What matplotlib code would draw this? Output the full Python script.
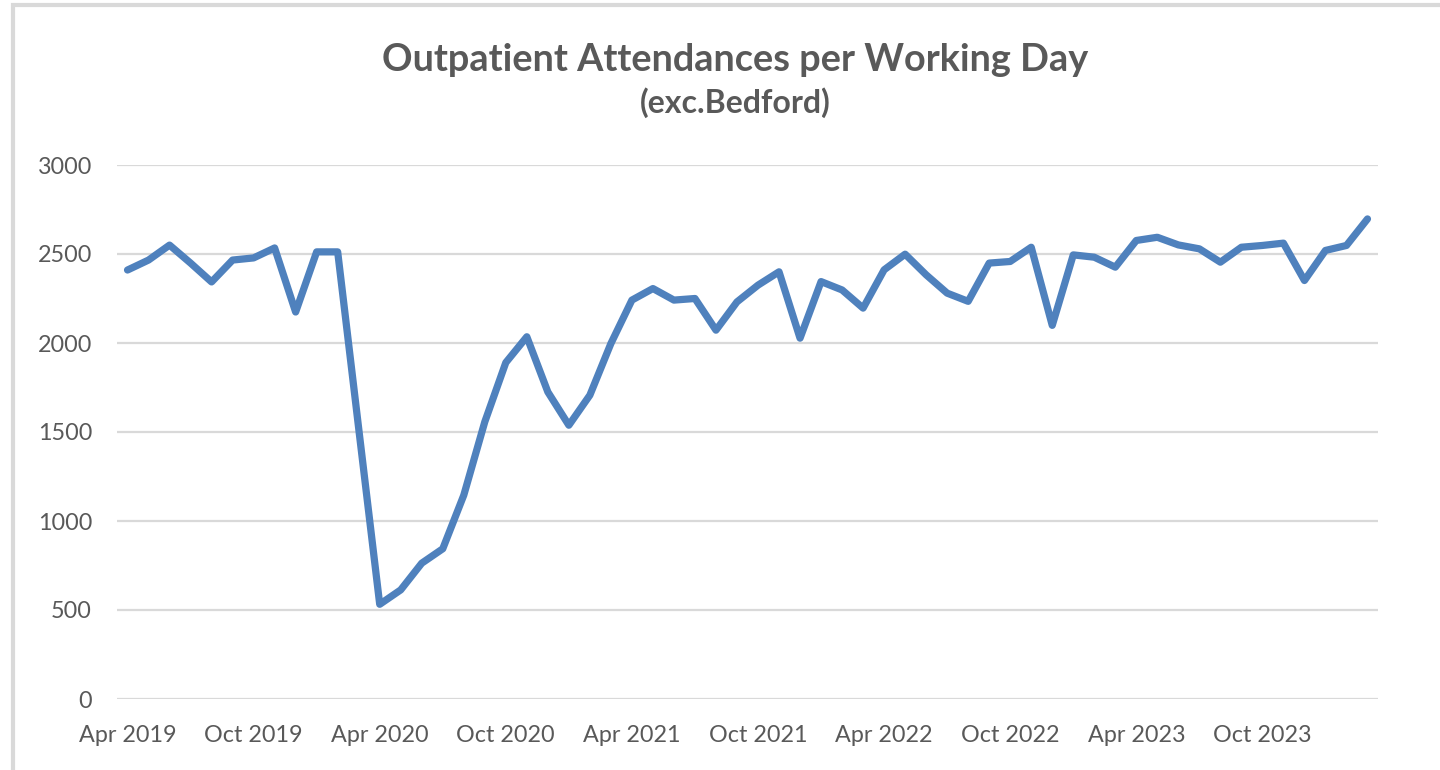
import matplotlib
matplotlib.use("Agg")
import matplotlib.pyplot as plt
from matplotlib.patches import Rectangle

# ---- data ----
months = ["Apr 2019", "May 2019", "Jun 2019", "Jul 2019", "Aug 2019", "Sep 2019",
          "Oct 2019", "Nov 2019", "Dec 2019", "Jan 2020", "Feb 2020", "Mar 2020",
          "Apr 2020", "May 2020", "Jun 2020", "Jul 2020", "Aug 2020", "Sep 2020",
          "Oct 2020", "Nov 2020", "Dec 2020", "Jan 2021", "Feb 2021", "Mar 2021",
          "Apr 2021", "May 2021", "Jun 2021", "Jul 2021", "Aug 2021", "Sep 2021",
          "Oct 2021", "Nov 2021", "Dec 2021", "Jan 2022", "Feb 2022", "Mar 2022",
          "Apr 2022", "May 2022", "Jun 2022", "Jul 2022", "Aug 2022", "Sep 2022",
          "Oct 2022", "Nov 2022", "Dec 2022", "Jan 2023", "Feb 2023", "Mar 2023",
          "Apr 2023", "May 2023", "Jun 2023", "Jul 2023", "Aug 2023", "Sep 2023",
          "Oct 2023", "Nov 2023", "Dec 2023", "Jan 2024", "Feb 2024", "Mar 2024"]
attendances = [2410, 2466, 2550, 2449, 2343, 2466, 2478, 2534, 2174, 2512, 2512, 1520,
               532, 613, 763, 844, 1145, 1557, 1890, 2035, 1725, 1538, 1707, 1997,
               2241, 2306, 2241, 2250, 2072, 2231, 2325, 2400, 2027, 2345, 2298, 2196,
               2411, 2499, 2383, 2280, 2234, 2449, 2458, 2538, 2099, 2495, 2482, 2426,
               2576, 2594, 2551, 2529, 2454, 2538, 2548, 2561, 2351, 2520, 2548, 2697]
yticks = [0, 500, 1000, 1500, 2000, 2500, 3000]

W, H = 1440, 770
fig = plt.figure(figsize=(W / 100, H / 100), dpi=100)
plt.rcParams['font.family'] = ['Lato', 'DejaVu Sans']

# outer chart frame (light grey, cropped on right/bottom)
fig.patches.append(Rectangle((13 / W, -0.05), 1.2, 1 - 5 / H + 0.05,
                             transform=fig.transFigure, fill=False,
                             edgecolor="#d9d9d9", linewidth=3))

ax = fig.add_axes([117 / W, 1 - 699 / H, (1378 - 117) / W, (699 - 165) / H])
x = list(range(len(months)))
ax.plot(x, attendances, color="#4f81bd", linewidth=5.2, solid_joinstyle="round",
        solid_capstyle="round", zorder=3)

ax.set_xlim(-0.5, len(months) - 0.5)
ax.set_ylim(0, 3000)
ax.set_yticks(yticks)
ax.set_yticklabels([str(v) for v in yticks])
xt = x[::6]
ax.set_xticks(xt)
ax.set_xticklabels([months[i] for i in xt])
ax.grid(axis="y", color="#d9d9d9", linewidth=1.6, zorder=0)
ax.set_axisbelow(True)
for s in ax.spines.values():
    s.set_visible(False)
ax.tick_params(axis="both", length=0, labelsize=16.8, colors="#595959")
ax.tick_params(axis="y", pad=18)
ax.tick_params(axis="x", pad=19)

fig.text(735 / W, 1 - 60 / H, "Outpatient Attendances per Working Day", ha="center",
         va="center", fontsize=27.3, fontweight="bold", color="#595959")
fig.text(735 / W, 1 - 103 / H, "(exc.Bedford)", ha="center", va="center",
         fontsize=23, fontweight="bold", color="#595959")

fig.savefig("out.png", dpi=100, facecolor="white")
